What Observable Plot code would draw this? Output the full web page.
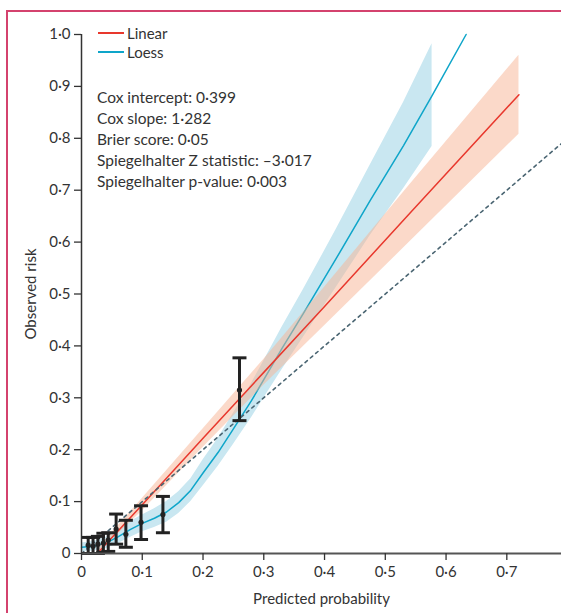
<!DOCTYPE html>
<html>
<head>
<meta charset="utf-8">
<script src="https://cdn.jsdelivr.net/npm/d3@7"></script>
<script src="https://cdn.jsdelivr.net/npm/@observablehq/plot@0.6"></script>
<style>
  html, body { margin: 0; padding: 0; background: #fff; overflow: hidden; }
  #wrap { position: relative; width: 561px; height: 613px; overflow: hidden; font-family: Lato, "Open Sans", sans-serif; color: #333; }
  #frame { position: absolute; left: 0; top: 0; pointer-events: none; }
  #chart { position: absolute; left: 0; top: 0; }
  .leg { position: absolute; font-size: 15px; line-height: 16px; }
  .sw { position: absolute; height: 1.5px; width: 26px; }
  #stats { position: absolute; left: 97px; top: 87px; font-size: 15.5px; line-height: 21px; }
</style>
</head>
<body>
<div id="wrap">
  <div id="chart"></div>
  <svg id="frame" width="561" height="613"><path d="M7,613V11H561" fill="none" stroke="#d4426e" stroke-width="2"/></svg>
</div>
<script>
// ---- Data ----
const tickValues = [0, 0.1, 0.2, 0.3, 0.4, 0.5, 0.6, 0.7, 0.8, 0.9, 1.0];
const xTickValues = [0, 0.1, 0.2, 0.3, 0.4, 0.5, 0.6, 0.7];

// Grouped observations (deciles) with 95% CI
const binX   = [0.011, 0.019, 0.027, 0.036, 0.044, 0.057, 0.073, 0.098, 0.134, 0.260];
const binObs = [0.016, 0.014, 0.018, 0.020, 0.026, 0.047, 0.037, 0.060, 0.075, 0.315];
const binLo  = [0.000, 0.000, 0.000, 0.002, 0.004, 0.018, 0.012, 0.027, 0.040, 0.256];
const binHi  = [0.031, 0.031, 0.033, 0.039, 0.040, 0.076, 0.064, 0.092, 0.110, 0.377];

// Linear calibration fit and its band
const linX  = [0.026, 0.100, 0.200, 0.300, 0.400, 0.540, 0.720];
const linY  = [0.000, 0.094, 0.222, 0.349, 0.476, 0.655, 0.884];
const linLo = [0.000, 0.082, 0.204, 0.324, 0.439, 0.600, 0.808];
const linHi = [0.008, 0.106, 0.240, 0.374, 0.513, 0.710, 0.960];

// Loess calibration curve and its band
const loessX  = [0, 0.02, 0.04, 0.06, 0.08, 0.10, 0.12, 0.14, 0.16, 0.18, 0.20, 0.225, 0.25, 0.28, 0.30, 0.33, 0.365, 0.42, 0.475, 0.53, 0.577, 0.633];
const loessY  = [0.012, 0.014, 0.020, 0.032, 0.046, 0.058, 0.068, 0.080, 0.098, 0.122, 0.155, 0.195, 0.240, 0.295, 0.335, 0.395, 0.462, 0.570, 0.680, 0.786, 0.882, 1.000];
const bandX   = [0, 0.02, 0.04, 0.06, 0.08, 0.10, 0.12, 0.14, 0.16, 0.18, 0.20, 0.225, 0.25, 0.28, 0.30, 0.33, 0.365, 0.42, 0.475, 0.53, 0.577];
const loessLo = [0.004, 0.005, 0.009, 0.019, 0.031, 0.042, 0.050, 0.060, 0.077, 0.100, 0.130, 0.168, 0.210, 0.262, 0.299, 0.354, 0.416, 0.514, 0.612, 0.703, 0.784];
const loessHi = [0.020, 0.023, 0.031, 0.045, 0.061, 0.074, 0.086, 0.100, 0.119, 0.144, 0.180, 0.222, 0.270, 0.328, 0.371, 0.436, 0.508, 0.626, 0.748, 0.869, 0.982];

// Ideal calibration reference
const diagX = [0, 0.79];

const legendLabels = ["Linear", "Loess"];
const legendColors = ["#e8382d", "#0ea5c9"];
const statLines = [
  "Cox intercept: 0·399",
  "Cox slope: 1·282",
  "Brier score: 0·05",
  "Spiegelhalter Z statistic: –3·017",
  "Spiegelhalter p-value: 0·003"
];

// ---- Build tables ----
const bins = binX.map((x, i) => ({x, y: binObs[i], lo: binLo[i], hi: binHi[i]}));
const lin = linX.map((x, i) => ({x, y: linY[i], lo: linLo[i], hi: linHi[i]}));
const loess = loessX.map((x, i) => ({x, y: loessY[i]}));
const loessBand = bandX.map((x, i) => ({x, lo: loessLo[i], hi: loessHi[i]}));
const diag = diagX.map(x => ({x, y: x}));

const fmt = d => d === 0 ? "0" : d.toFixed(1).replace(".", "·");
const cap = { draw(ctx, size) { const w = 7; ctx.moveTo(-w, 0); ctx.lineTo(w, 0); } };

const chart = Plot.plot({
  width: 561,
  height: 613,
  marginLeft: 81,
  marginRight: 0,
  marginTop: 34,
  marginBottom: 60,
  style: { fontFamily: "Lato, 'Open Sans', sans-serif", fontSize: "15px", color: "#333", background: "transparent" },
  x: { domain: [0, 0.79] },
  y: { domain: [0, 1] },
  marks: [
    Plot.areaY(loessBand, { x: "x", y1: "lo", y2: "hi", fill: "#c9e7f1" }),
    Plot.line(loess, { x: "x", y: "y", stroke: "#0ea5c9", strokeWidth: 1.5 }),
    Plot.areaY(lin, { x: "x", y1: "lo", y2: "hi", fill: "#f7b393", fillOpacity: 0.5 }),
    Plot.line(lin, { x: "x", y: "y", stroke: "#e8382d", strokeWidth: 1.5 }),
    Plot.line(diag, { x: "x", y: "y", stroke: "#4a6572", strokeWidth: 1.6, strokeDasharray: "3,4" }),
    Plot.ruleX(bins, { x: "x", y1: "lo", y2: "hi", stroke: "#222", strokeWidth: 3 }),
    Plot.dot(bins, { x: "x", y: "hi", symbol: cap, stroke: "#222", strokeWidth: 3, fill: "none", r: 6 }),
    Plot.dot(bins, { x: "x", y: "lo", symbol: cap, stroke: "#222", strokeWidth: 3, fill: "none", r: 6 }),
    Plot.dot(bins, { x: "x", y: "y", fill: "#222", r: 2.6 }),
    Plot.ruleY([0], { stroke: "#555", strokeWidth: 2 }),
    Plot.ruleX([0], { y1: 0, y2: 1, stroke: "#333", strokeWidth: 1.5 }),
    Plot.axisY({ ticks: tickValues, tickFormat: fmt, tickSize: 7, tickPadding: 4, fontSize: 15, label: "Observed risk", labelAnchor: "center", labelArrow: "none", labelOffset: 56, strokeWidth: 1.3 }),
    Plot.axisX({ ticks: xTickValues, tickFormat: fmt, tickSize: 7, tickPadding: 6, fontSize: 15, label: "Predicted probability", labelAnchor: "center", labelArrow: "none", labelOffset: 50, strokeWidth: 1.3 })
  ]
});
document.getElementById("chart").appendChild(chart);

// Legend and statistics as HTML overlays
const wrap = document.getElementById("wrap");
legendLabels.forEach((lab, i) => {
  const sw = document.createElement("div");
  sw.className = "sw";
  sw.style.left = "98px";
  sw.style.top = (32 + i * 19) + "px";
  sw.style.background = legendColors[i];
  wrap.appendChild(sw);
  const t = document.createElement("div");
  t.className = "leg";
  t.style.left = "127px";
  t.style.top = (25 + i * 19) + "px";
  t.textContent = lab;
  wrap.appendChild(t);
});
const stats = document.createElement("div");
stats.id = "stats";
stats.innerHTML = statLines.map(s => `<div>${s}</div>`).join("");
wrap.appendChild(stats);
</script>
</body>
</html>
